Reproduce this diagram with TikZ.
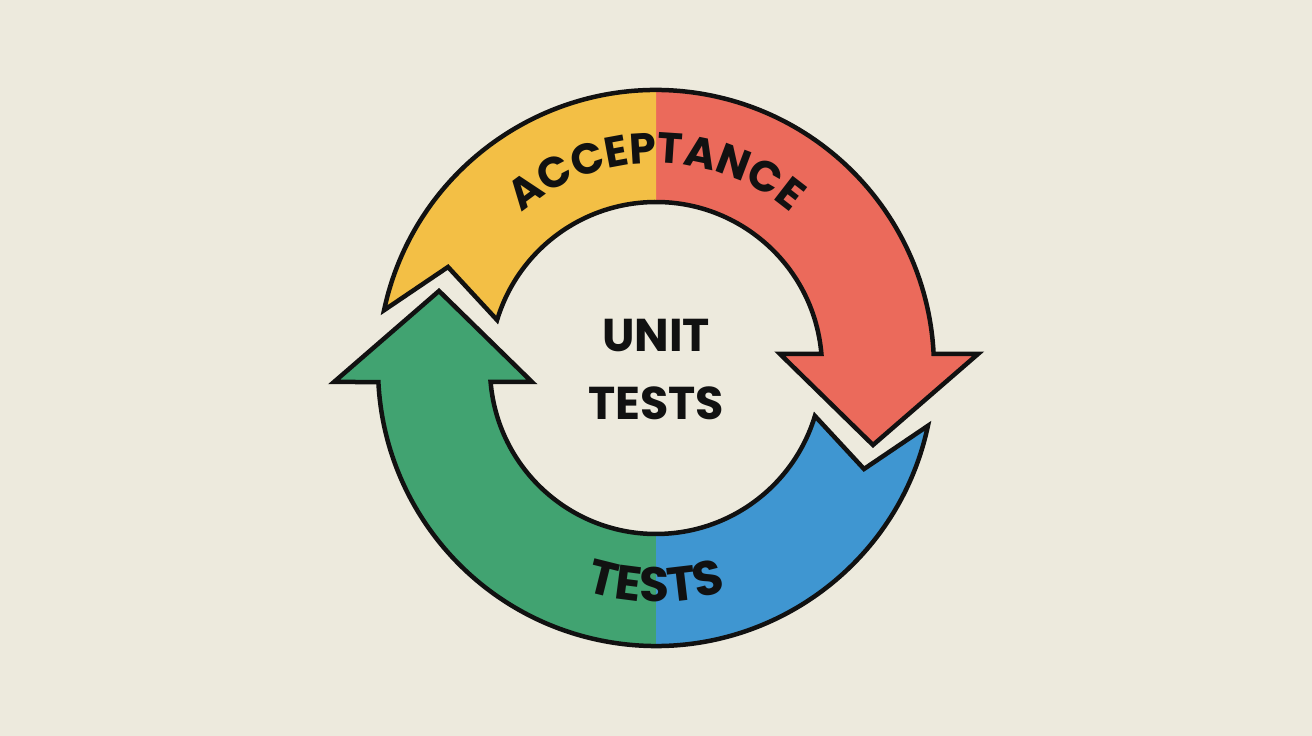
\documentclass[tikz,border=0pt]{standalone}
\usepackage{fontspec}
\setmainfont{Poppins}
\usetikzlibrary{decorations.text}
\definecolor{bg}{HTML}{EDEADD}
\definecolor{cyel}{HTML}{F3BF45}
\definecolor{cred}{HTML}{EB6A5B}
\definecolor{cblu}{HTML}{3F96D1}
\definecolor{cgrn}{HTML}{41A371}
\definecolor{ink}{HTML}{111111}
\newcommand\arrowpath{(168:278) arc[start angle=168,end angle=2.89,radius=278] -- (322,14) -- (217,-77) -- (124,14) -- (165.4,14) arc[start angle=4.84,end angle=163.2,radius=166] -- (-208,101) -- cycle}
\newcommand\accfont{\fontsize{43}{50}\selectfont\bfseries}
\newcommand\tstfont{\fontsize{48.5}{56}\selectfont\bfseries}
\tikzset{
  outline/.style={draw=ink, line width=4.5, line join=miter},
  label/.style={font=\fontsize{46}{54}\selectfont\bfseries, text=ink, inner sep=0pt, anchor=base}
}
\begin{document}
\begin{tikzpicture}[x=1pt,y=1pt]
\fill[bg] (0,0) rectangle (1312,736);
\useasboundingbox (0,0) rectangle (1312,736);
\begin{scope}[shift={(656,368)}]
  % top arrow: yellow / red
  \fill[cred] \arrowpath;
  \begin{scope}
    \clip (-400,-400) rectangle (0,400);
    \fill[cyel] \arrowpath;
  \end{scope}
  \path[outline] \arrowpath;
  % bottom arrow: blue / green
  \begin{scope}[rotate=180]
    \fill[cgrn] \arrowpath;
    \begin{scope}
      \clip (-400,-400) rectangle (0,400);
      \fill[cblu] \arrowpath;
    \end{scope}
    \path[outline] \arrowpath;
  \end{scope}
  % curved labels
  \path[decorate, decoration={text along path, text={|\accfont|ACCEPTANCE}, text align=center, text color=ink}]
    (135:205) arc[start angle=135, end angle=45, radius=205];
  \path[decorate, decoration={text along path, text={|\tstfont|TESTS}, text align=center, text color=ink}]
    (250:234) arc[start angle=250, end angle=290, radius=234];
\end{scope}
\node[label] (unit) at (656,384) {UNIT};
\node[label] (tests) at (656,316) {TESTS};
\end{tikzpicture}
\end{document}
